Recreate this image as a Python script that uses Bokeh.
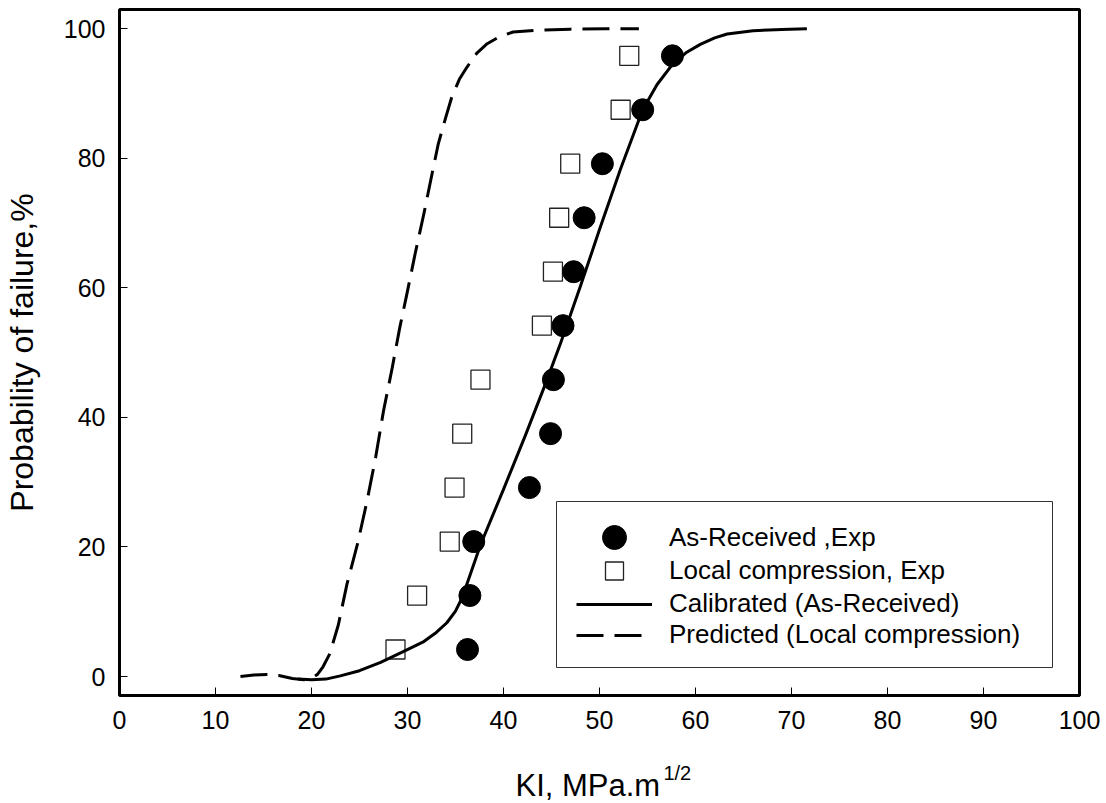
import math
from bokeh.plotting import figure
from bokeh.models import (Range1d, FixedTicker, Legend, LegendItem, Title,
                          BoxAnnotation)
from bokeh.embed import file_html
from bokeh.resources import INLINE

# ---- data ----
x_ticks = [0, 10, 20, 30, 40, 50, 60, 70, 80, 90, 100]
y_ticks = [0, 20, 40, 60, 80, 100]

prob_levels = [4.17, 12.5, 20.83, 29.17, 37.5, 45.83, 54.17, 62.5, 70.83, 79.17, 87.5, 95.83]

as_received_k = [36.25, 36.5, 36.9, 42.7, 44.9, 45.2, 46.2, 47.3, 48.4, 50.3, 54.5, 57.6]
as_received_p = prob_levels

local_comp_k = [28.75, 31.0, 34.4, 34.9, 35.7, 37.6, 44.0, 45.15, 45.8, 46.95, 52.2, 53.1]
local_comp_p = prob_levels

calibrated_k = [18.6, 20.0, 21.5, 23.0, 25.0, 27.2, 29.5, 31.7, 33.0, 34.1, 35.0, 35.7,
                36.5, 37.6, 38.8, 40.0, 42.3, 44.4, 46.0, 48.0, 50.0, 52.2, 54.5, 56.0,
                57.6, 59.0, 60.5, 62.0, 63.3, 66.0, 69.0, 71.6]
calibrated_p = [-0.4, -0.5, -0.4, 0.1, 0.9, 2.2, 3.8, 5.4, 6.8, 8.3, 10.1, 12.2,
                15.6, 20.3, 24.6, 28.9, 37.3, 45.3, 51.7, 60.2, 69.0, 78.4, 87.5, 91.4,
                94.5, 96.3, 97.6, 98.6, 99.2, 99.7, 99.9, 100.0]

predicted_k = [12.6, 14.0, 15.4, 16.6, 18.0, 19.2, 20.0, 20.6, 21.2, 21.9,
               22.8, 23.7, 24.8, 25.8, 26.7, 27.5, 28.4, 29.2, 29.9, 30.8,
               31.7, 32.5, 33.2, 34.0, 34.6, 35.4, 36.2, 37.2, 38.3, 39.6,
               41.0, 43.5, 47.0, 50.5, 54.1]
predicted_p = [0.0, 0.25, 0.3, 0.15, -0.3, -0.5, -0.3, 0.3, 1.5, 3.5,
               8.0, 14.3, 20.5, 27.2, 34.0, 41.0, 47.6, 53.9, 58.8, 65.3,
               71.4, 77.2, 82.2, 86.4, 89.4, 92.2, 94.1, 96.2, 97.7, 98.8,
               99.5, 99.8, 99.95, 100.0, 100.0]

legend_labels = ["As-Received ,Exp", "Local compression, Exp",
                 "Calibrated (As-Received)", "Predicted (Local compression)"]

FONT = "Liberation Sans"
NBSP = "\u00a0"

p = figure(width=1106, height=803,
           x_range=Range1d(0, 100), y_range=Range1d(-2.93, 102.98),
           output_backend="svg", toolbar_location=None,
           min_border_left=119, min_border_right=27,
           min_border_top=9, min_border_bottom=108)
p.title.visible = False
p.background_fill_color = "white"
p.border_fill_color = "white"
p.xgrid.visible = False
p.ygrid.visible = False
p.outline_line_color = "black"
p.outline_line_width = 3
p.outline_line_alpha = 1.0

for ax in (p.xaxis[0], p.yaxis[0]):
    ax.axis_line_color = None
    ax.major_tick_in = 8
    ax.major_tick_out = 0
    ax.minor_tick_line_color = None
    ax.major_tick_line_color = "black"
    ax.major_tick_line_width = 1
    ax.major_label_text_font = FONT
    ax.major_label_text_font_size = "25px"
    ax.major_label_text_color = "black"
    ax.axis_label_text_font = FONT
    ax.axis_label_text_font_style = "normal"
    ax.axis_label_text_color = "black"

p.xaxis.ticker = FixedTicker(ticks=x_ticks)
p.yaxis.ticker = FixedTicker(ticks=y_ticks)
p.xaxis.major_label_standoff = 15
p.yaxis.major_label_standoff = 14

p.yaxis.axis_label = "Probability of failure,%"
p.yaxis.axis_label_text_font_size = "32px"
p.yaxis.axis_label_standoff = 21

# superscript part of the x title
p.xaxis.axis_label = NBSP * 28 + "1/2"
p.xaxis.axis_label_text_font_size = "20px"
p.xaxis.axis_label_standoff = 30

# main part of the x title
p.add_layout(Title(text="KI, MPa.m", align="left", offset=396, standoff=-38,
                   vertical_align="top",
                   text_font=FONT, text_font_size="31px", text_font_style="normal",
                   text_color="black"), "below")

sq = p.scatter(local_comp_k, local_comp_p, marker="square", size=19,
               fill_color="white", line_color="#222222", line_width=1.3)
l_cal = p.line(calibrated_k, calibrated_p, line_color="black", line_width=3,
               line_join="round")
l_pred = p.line(predicted_k, predicted_p, line_color="black", line_width=3,
                line_dash="27 11", line_join="round")
ci = p.scatter(as_received_k, as_received_p, marker="circle", size=22,
               fill_color="black", line_color="black")

# legend frame
p.add_layout(BoxAnnotation(left=437, right=933, bottom=28, top=194,
                           left_units="screen", right_units="screen",
                           top_units="screen", bottom_units="screen",
                           fill_color="white", fill_alpha=1.0,
                           line_color="#333333", line_width=1, line_alpha=1.0))

# one legend per entry so each marker can have its own size
entries = [(legend_labels[0], ci, 60, 128),
           (legend_labels[1], sq, 45, 102),
           (legend_labels[2], l_cal, 30, 76),
           (legend_labels[3], l_pred, 30, 45)]
for lab, rend, gh, bottom in entries:
    lg = Legend(items=[LegendItem(label=lab, renderers=[rend])], location=(457, bottom))
    lg.border_line_color = None
    lg.background_fill_alpha = 0.0
    lg.padding = 0
    lg.margin = 0
    lg.spacing = 0
    lg.glyph_width = 76
    lg.glyph_height = gh
    lg.label_standoff = 17
    lg.label_height = 20
    lg.label_text_font = FONT
    lg.label_text_font_size = "26px"
    lg.label_text_color = "black"
    p.add_layout(lg)

open("out.html", "w").write(file_html(p, INLINE))
